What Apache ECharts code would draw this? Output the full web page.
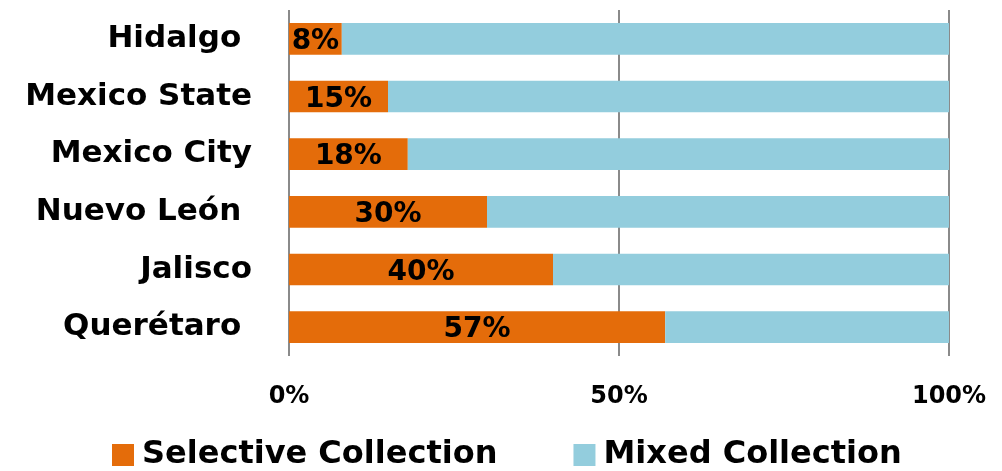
<!DOCTYPE html>
<html>
<head>
<meta charset="utf-8">
<script src="https://cdn.jsdelivr.net/npm/echarts@6/dist/echarts.min.js"></script>
<style>
  html, body { margin: 0; padding: 0; background: #fff; }
  #main { width: 1002px; height: 471px; }
</style>
</head>
<body>
<div id="main"></div>
<script>
// data, top to bottom
var states = ['Hidalgo ', 'Mexico State', 'Mexico City', 'Nuevo León ', 'Jalisco', 'Querétaro '];
var selective = [8, 15, 18, 30, 40, 57];
var mixed = [92, 85, 82, 70, 60, 43];
var xTicks = [0, 50, 100];

var font = "'Century Gothic', 'DejaVu Sans', sans-serif";

var myChart = echarts.init(document.getElementById('main'));
var option = {
    animation: false,
    textStyle: { fontFamily: font },
    legend: {
        top: 434,
        left: 107,
        icon: 'rect',
        itemWidth: 22,
        itemHeight: 22,
        itemGap: 76,
        textStyle: { fontSize: 32, fontWeight: 'bold', color: '#000', fontFamily: font, padding: [0, 0, 0, 3] }
    },
    grid: {
        left: 289,
        right: 53,
        top: 10,
        bottom: 115
    },
    xAxis: {
        type: 'value',
        min: xTicks[0],
        max: xTicks[xTicks.length - 1],
        interval: 50,
        axisLine: { show: false },
        axisTick: { show: false },
        axisLabel: {
            margin: 29,
            fontSize: 24,
            fontWeight: 'bold',
            color: '#000',
            fontFamily: font,
            formatter: '{value}%'
        },
        splitLine: { show: true, lineStyle: { color: '#8a8a8a', width: 2 } }
    },
    yAxis: {
        type: 'category',
        inverse: true,
        data: states,
        axisLine: { show: false },
        axisTick: { show: false },
        axisLabel: {
            margin: 37,
            fontSize: 31,
            fontWeight: 'bold',
            color: '#000',
            fontFamily: font
        }
    },
    series: [{
        name: 'Selective Collection',
        type: 'bar',
        stack: 'total',
        barCategoryGap: '45%',
        data: selective,
        itemStyle: { color: '#e46c0a' },
        label: {
            show: true,
            position: 'inside',
            offset: [0, 3],
            formatter: '{c}%',
            fontSize: 28,
            fontWeight: 'bold',
            color: '#000',
            fontFamily: font
        }
    }, {
        name: 'Mixed Collection',
        type: 'bar',
        stack: 'total',
        barCategoryGap: '45%',
        data: mixed,
        itemStyle: { color: '#93cddd' }
    }]
};
myChart.setOption(option);
</script>
</body>
</html>
